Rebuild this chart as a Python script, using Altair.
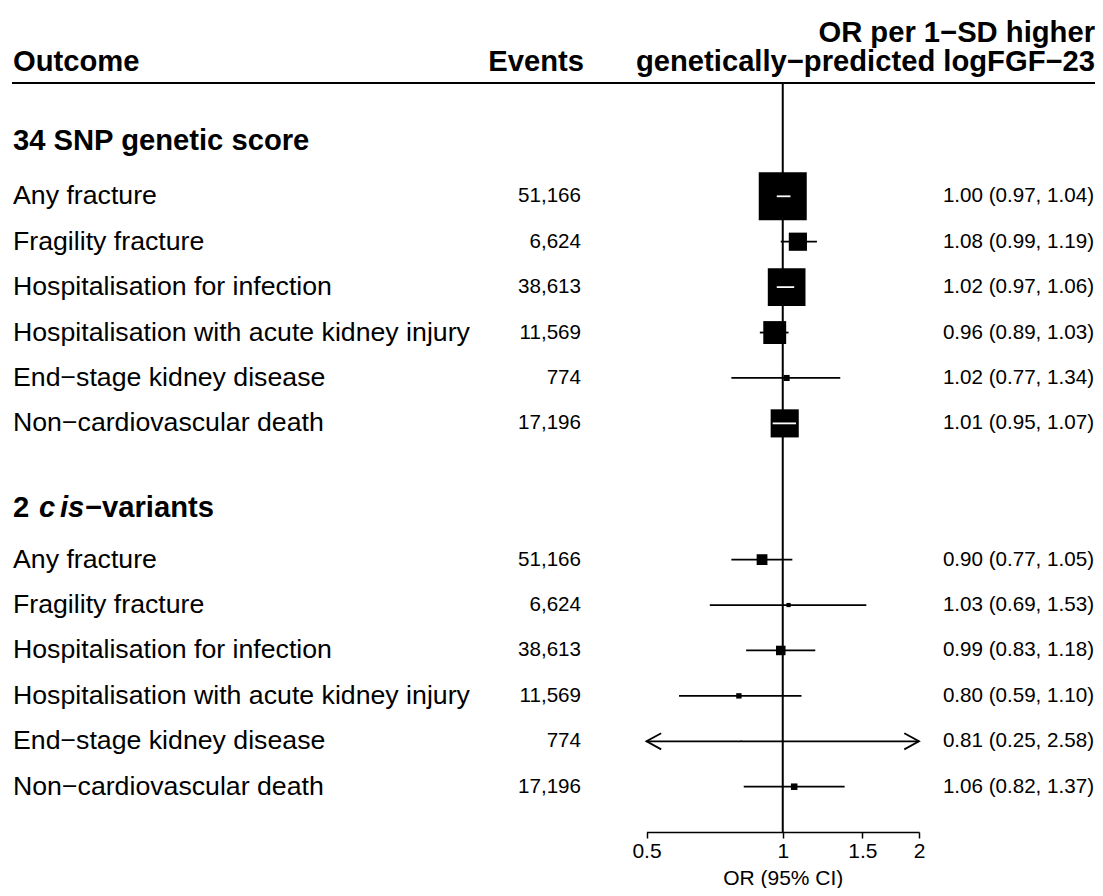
import altair as alt
import numpy as np
import pandas as pd

FONT = "Liberation Sans"

# ---------------- data ----------------
outcomes = [
    "Any fracture",
    "Fragility fracture",
    "Hospitalisation for infection",
    "Hospitalisation with acute kidney injury",
    "End\u2212stage kidney disease",
    "Non\u2212cardiovascular death",
]
events = ["51,166", "6,624", "38,613", "11,569", "774", "17,196"]

snp_or = [1.00, 1.08, 1.02, 0.96, 1.02, 1.01]
snp_lo = [0.97, 0.99, 0.97, 0.89, 0.77, 0.95]
snp_hi = [1.04, 1.19, 1.06, 1.03, 1.34, 1.07]

cis_or = [0.90, 1.03, 0.99, 0.80, 0.81, 1.06]
cis_lo = [0.77, 0.69, 0.83, 0.59, 0.25, 0.82]
cis_hi = [1.05, 1.53, 1.18, 1.10, 2.58, 1.37]

group_names = ["34 SNP genetic score", "2 cis\u2212variants"]
axis_ticks = [0.5, 1, 1.5, 2]

# ---------------- layout constants ----------------
W, H = 1087, 824
X_MIN, X_MAX = 0.5, 2.0
X_RANGE = [638.5, 911]
Y_RANGE = [188.3, 778.7]
MAX_BOX = 48.0
px_per_ln = (X_RANGE[1] - X_RANGE[0]) / np.log(X_MAX / X_MIN)

rows = []
for g, (ors, los, his) in enumerate([(snp_or, snp_lo, snp_hi), (cis_or, cis_lo, cis_hi)]):
    for i in range(len(outcomes)):
        rows.append(dict(
            group=g, row=g * 8 + i, outcome=outcomes[i], events=events[i],
            est=ors[i], lo=los[i], hi=his[i],
        ))
df = pd.DataFrame(rows)
df["label"] = df.apply(lambda r: f"{r.est:.2f} ({r.lo:.2f}, {r.hi:.2f})", axis=1)
df["lo_c"] = df["lo"].clip(lower=X_MIN)
df["hi_c"] = df["hi"].clip(upper=X_MAX)
info = 1.0 / np.log(df["hi"] / df["lo"])
df["side"] = MAX_BOX * info / info.max()
df["area"] = df["side"] ** 2
inside = (np.log(df["est"] / df["lo"]) * px_per_ln < df["side"] / 2) & (
    np.log(df["hi"] / df["est"]) * px_per_ln < df["side"] / 2)
df["inside"] = inside

left_arrows = df[df["lo"] < X_MIN].assign(xa=X_MIN)
right_arrows = df[df["hi"] > X_MAX].assign(xa=X_MAX)

heads = pd.DataFrame({"row": [-1, 7]})

xscale = alt.Scale(type="log", domain=[X_MIN, X_MAX], range=X_RANGE, nice=False, zero=False)
yscale = alt.Scale(domain=[0, 13], range=Y_RANGE, nice=False, zero=False)
xaxis = alt.Axis(
    values=axis_ticks, format="~g", grid=False, domainColor="black", domainWidth=1.5,
    tickColor="black", tickWidth=1.5, tickSize=6, labelFont=FONT, labelFontSize=21,
    labelColor="black", labelPadding=2, labelFlush=False, title="OR (95% CI)", titleFont=FONT,
    titleFontSize=21, titleFontWeight="normal", titleColor="black",
    titleBaseline="alphabetic", titleY=52,
)

def X(field):
    return alt.X(field, type="quantitative", scale=xscale, axis=xaxis)

def Y(field="row"):
    return alt.Y(field, type="quantitative", scale=yscale, axis=None)

one = pd.DataFrame({"ref": [1.0]})

header_line = alt.Chart(one).mark_rule(color="black", strokeWidth=2).encode(
    x=alt.value(4), x2=alt.value(W), y=alt.value(75)
)
ref_line = alt.Chart(one).mark_rule(color="black", strokeWidth=2).encode(
    x=X("ref"), y=alt.value(75), y2=alt.value(H)
)
ci = alt.Chart(df).mark_rule(color="black", strokeWidth=1.8).encode(
    x=X("lo_c"), x2="hi_c", y=Y()
)
boxes = alt.Chart(df).mark_square(color="black", filled=True, opacity=1).encode(
    x=X("est"), y=Y(), size=alt.Size("area:Q", scale=None)
)
white_ci = alt.Chart(df[df["inside"]]).mark_rule(color="white", strokeWidth=1.8).encode(
    x=X("lo"), x2="hi", y=Y()
)
larrow = alt.Chart(left_arrows).mark_point(
    shape="M1,-0.55L0,0L1,0.55", filled=False, color="black", strokeWidth=1.8,
    size=865, opacity=1,
).encode(x=X("xa"), y=Y())
rarrow = alt.Chart(right_arrows).mark_point(
    shape="M-1,-0.55L0,0L-1,0.55", filled=False, color="black", strokeWidth=1.8,
    size=865, opacity=1,
).encode(x=X("xa"), y=Y())

lab = alt.Chart(df).mark_text(align="left", baseline="middle", font=FONT, fontSize=26.7,
                              color="black").encode(
    x=alt.value(5), y=Y(), text="outcome:N")
ev = alt.Chart(df).mark_text(align="right", baseline="middle", font=FONT, fontSize=20.6,
                             color="black").encode(
    x=alt.value(573), y=Y(), text="events:N")
ort = alt.Chart(df).mark_text(align="right", baseline="middle", font=FONT, fontSize=20.6,
                              color="black").encode(
    x=alt.value(1086), y=Y(), text="label:N")

bold = dict(baseline="middle", font=FONT, fontSize=29.2, fontWeight="bold", color="black")
g1 = alt.Chart(heads.iloc[[0]]).mark_text(align="left", text=group_names[0], dy=-10, **bold).encode(
    x=alt.value(5), y=Y())
h2 = alt.Chart(heads.iloc[[1]])
g2 = [h2.mark_text(align="left", text="2", dy=-6, **bold).encode(x=alt.value(5), y=Y())]
for letter, xpos in zip("cis", [31, 52, 60]):
    g2.append(h2.mark_text(align="left", text=letter, fontStyle="italic", dy=-6, **bold).encode(
        x=alt.value(xpos), y=Y()))
g2.append(h2.mark_text(align="left", text="\u2212variants", dy=-6, **bold).encode(
    x=alt.value(77), y=Y()))

hdr = dict(font=FONT, fontSize=29.2, fontWeight="bold", color="black", baseline="alphabetic")
h_out = alt.Chart(one).mark_text(align="left", text="Outcome", **hdr).encode(
    x=alt.value(5), y=alt.value(63))
h_ev = alt.Chart(one).mark_text(align="right", text="Events", **hdr).encode(
    x=alt.value(576), y=alt.value(63))
h_or1 = alt.Chart(one).mark_text(align="right", text="OR per 1\u2212SD higher", **hdr).encode(
    x=alt.value(1087), y=alt.value(34))
h_or2 = alt.Chart(one).mark_text(align="right", text="genetically\u2212predicted logFGF\u221223", **hdr).encode(
    x=alt.value(1087), y=alt.value(63))

chart = alt.layer(
    header_line, ref_line, ci, boxes, white_ci, larrow, rarrow,
    lab, ev, ort, g1, *g2, h_out, h_ev, h_or1, h_or2,
).properties(
    width=W, height=H,
    padding={"left": 0, "top": 0, "right": 0, "bottom": 56},
    autosize=alt.AutoSizeParams(type="none"),
).configure_view(stroke=None)

chart.save("out.html", embed_options={"renderer": "svg", "actions": False})
